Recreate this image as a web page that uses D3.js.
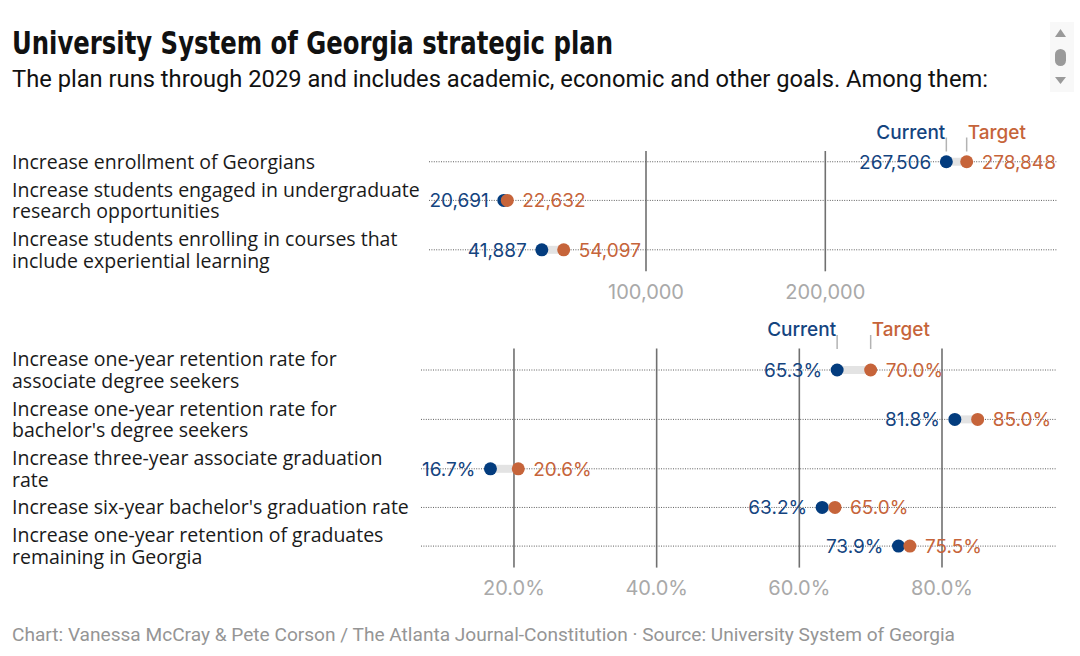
<!DOCTYPE html>
<html>
<head>
<meta charset="utf-8">
<script src="https://cdn.jsdelivr.net/npm/d3@7"></script>
<style>
  html, body { margin: 0; padding: 0; background: #fff; }
  svg { display: block; }
</style>
</head>
<body>
<div id="chart"></div>
<script>
// ---------------- DATA ----------------
const titleText = "University System of Georgia strategic plan";
const subtitleText = "The plan runs through 2029 and includes academic, economic and other goals. Among them:";
const footerText = "Chart: Vanessa McCray & Pete Corson / The Atlanta Journal-Constitution \u00b7 Source: University System of Georgia";

const legendLabels = ["Current", "Target"];

const countCategories = [
  ["Increase enrollment of Georgians"],
  ["Increase students engaged in undergraduate", "research opportunities"],
  ["Increase students enrolling in courses that", "include experiential learning"]
];
const countCurrent = [267506, 20691, 41887];
const countTarget  = [278848, 22632, 54097];
const countTicks   = [100000, 200000];

const rateCategories = [
  ["Increase one-year retention rate for", "associate degree seekers"],
  ["Increase one-year retention rate for", "bachelor's degree seekers"],
  ["Increase three-year associate graduation", "rate"],
  ["Increase six-year bachelor's graduation rate"],
  ["Increase one-year retention of graduates", "remaining in Georgia"]
];
const rateCurrent = [65.3, 81.8, 16.7, 63.2, 73.9];
const rateTarget  = [70.0, 85.0, 20.6, 65.0, 75.5];
const rateTicks   = [20, 40, 60, 80];

// ---------------- STYLE / LAYOUT ----------------
const W = 1080, H = 656;
const BLUE = "#033c7e", ORANGE = "#c6643a";
const BLUE_TXT = "#14447f", ORANGE_TXT = "#c6643a";
const LINE_H = 21.5, ROW_GAP = 6.4;
const labelFont = "'Open Sans', Lato, sans-serif";
const numFont = "Inter, 'Noto Sans', sans-serif";
const headFont = "'Liberation Sans Narrow', 'DejaVu Sans Condensed', sans-serif";

const svg = d3.select("#chart").append("svg").attr("width", W).attr("height", H);

// title / subtitle / footer
svg.append("text").attr("x", 12).attr("y", 54)
  .attr("font-family", headFont).attr("font-weight", 700).attr("font-size", 32)
  .attr("textLength", 601).attr("lengthAdjust", "spacingAndGlyphs")
  .attr("fill", "#111").text(titleText);
svg.append("text").attr("x", 12).attr("y", 87)
  .attr("font-family", "Roboto, sans-serif").attr("font-size", 23)
  .attr("textLength", 976).attr("lengthAdjust", "spacingAndGlyphs")
  .attr("fill", "#111").text(subtitleText);
svg.append("text").attr("x", 12).attr("y", 641)
  .attr("font-family", "Roboto, sans-serif").attr("font-size", 18.5)
  .attr("textLength", 943).attr("lengthAdjust", "spacingAndGlyphs")
  .attr("fill", "#959595").text(footerText);

// scrollbar decoration
const sb = svg.append("g");
sb.append("rect").attr("x", 1050).attr("y", 22).attr("width", 24).attr("height", 70).attr("fill", "#f8f8f8");
sb.append("path").attr("d", "M1055,37 L1066,37 L1060.5,29 Z").attr("fill", "#9a9a9a");
sb.append("rect").attr("x", 1055).attr("y", 49).attr("width", 11).attr("height", 17).attr("rx", 5.5).attr("fill", "#9a9a9a");
sb.append("path").attr("d", "M1055,77 L1066,77 L1060.5,84 Z").attr("fill", "#9a9a9a");

function drawPanel(opts) {
  const { categories, current, target, ticks, x, fmt, blockTop, lineX0, lineX1 } = opts;
  const g = svg.append("g");
  let y0 = blockTop;
  const rows = categories.map((lines, i) => {
    const h = lines.length * LINE_H;
    const r = { i, lines, top: y0, cy: y0 + h / 2, cur: current[i], tgt: target[i] };
    y0 += h + ROW_GAP;
    return r;
  });
  const blockBottom = y0 - ROW_GAP;

  // category labels (one text per line)
  rows.forEach(r => {
    r.lines.forEach((ln, k) => {
      g.append("text").attr("class", "cat").attr("font-family", labelFont).attr("font-size", 19.5)
        .attr("fill", "#1a1a1a")
        .attr("x", 12).attr("y", r.top + LINE_H * (k + 0.5)).attr("dy", "0.36em").text(ln);
    });
  });

  // vertical gridlines
  g.selectAll(".grid").data(ticks).join("line")
    .attr("x1", d => x(d)).attr("x2", d => x(d))
    .attr("y1", blockTop).attr("y2", blockBottom)
    .attr("stroke", "#707070").attr("stroke-width", 1.6);
  // tick labels
  g.selectAll(".tick").data(ticks).join("text")
    .attr("x", d => x(d)).attr("y", blockBottom + 20).attr("dy", "0.36em")
    .attr("text-anchor", "middle").attr("font-family", numFont).attr("font-size", 20)
    .attr("fill", "#a9a9a9").text(fmt.tick);

  // dotted row lines
  g.selectAll(".row").data(rows).join("line")
    .attr("x1", lineX0).attr("x2", lineX1).attr("y1", d => d.cy).attr("y2", d => d.cy)
    .attr("stroke", "#5e5e5e").attr("stroke-width", 1).attr("stroke-dasharray", "1 1.4");

  // connector bars
  g.selectAll(".bar").data(rows).join("line")
    .attr("x1", d => x(d.cur)).attr("x2", d => x(d.tgt)).attr("y1", d => d.cy).attr("y2", d => d.cy)
    .attr("stroke", "#e3e3e3").attr("stroke-width", 8);

  // dots
  g.selectAll(".dcur").data(rows).join("circle")
    .attr("cx", d => x(d.cur)).attr("cy", d => d.cy).attr("r", 6.5).attr("fill", BLUE);
  g.selectAll(".dtgt").data(rows).join("circle")
    .attr("cx", d => x(d.tgt)).attr("cy", d => d.cy).attr("r", 6.5).attr("fill", ORANGE);

  // value labels
  g.selectAll(".lcur").data(rows).join("text")
    .attr("x", d => x(d.cur) - 15).attr("y", d => d.cy).attr("dy", "0.36em")
    .attr("text-anchor", "end").attr("font-family", numFont).attr("font-size", 19)
    .attr("fill", BLUE_TXT).text(d => fmt.value(d.cur));
  g.selectAll(".ltgt").data(rows).join("text")
    .attr("x", d => x(d.tgt) + 15).attr("y", d => d.cy).attr("dy", "0.36em")
    .attr("text-anchor", "start").attr("font-family", numFont).attr("font-size", 19)
    .attr("fill", ORANGE_TXT).text(d => fmt.value(d.tgt));

  // legend on first row
  const r0 = rows[0];
  const lx = [x(r0.cur), x(r0.tgt)];
  g.selectAll(".legtick").data(lx).join("line")
    .attr("x1", d => d).attr("x2", d => d)
    .attr("y1", blockTop - 13.5).attr("y2", blockTop + 0.5)
    .attr("stroke", "#b3b3b3").attr("stroke-width", 1.5);
  g.append("text").attr("x", lx[0] - 1).attr("y", blockTop - 19.3).attr("dy", "0.36em")
    .attr("text-anchor", "end").attr("font-family", numFont).attr("font-weight", 500).attr("font-size", 19)
    .attr("fill", BLUE_TXT).text(legendLabels[0]);
  g.append("text").attr("x", lx[1] + 1).attr("y", blockTop - 19.3).attr("dy", "0.36em")
    .attr("text-anchor", "start").attr("font-family", numFont).attr("font-weight", 500).attr("font-size", 19)
    .attr("fill", ORANGE_TXT).text(legendLabels[1]);
  return g;
}

const xCount = d3.scaleLinear().domain([0, 200000]).range([466.7, 825.3]);
const xRate = d3.scaleLinear().domain([0, 80]).range([371.3, 942]);

const commaFmt = d3.format(",");
const pctFmt = d => d3.format(".1f")(d) + "%";

drawPanel({ categories: countCategories, current: countCurrent, target: countTarget, ticks: countTicks,
  x: xCount, fmt: { tick: commaFmt, value: commaFmt }, blockTop: 151, lineX0: 429, lineX1: 1057 });
drawPanel({ categories: rateCategories, current: rateCurrent, target: rateTarget, ticks: rateTicks,
  x: xRate, fmt: { tick: pctFmt, value: pctFmt }, blockTop: 348.5, lineX0: 421, lineX1: 1056 });
</script>
</body>
</html>
